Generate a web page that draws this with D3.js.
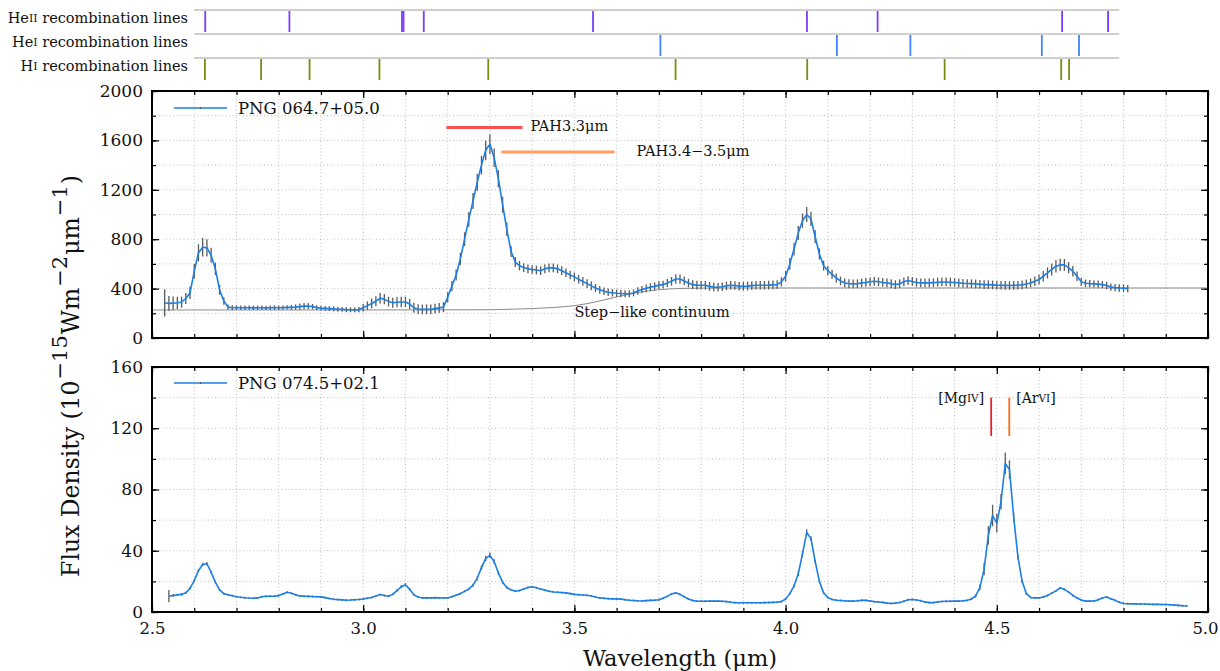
<!DOCTYPE html>
<html><head><meta charset="utf-8">
<script src="https://cdn.jsdelivr.net/npm/d3@7"></script>
<style>
body{margin:0;background:#fff}
svg{display:block}
text{font-family:"DejaVu Serif",serif;fill:#111}
</style></head>
<body><svg id="c" width="1220" height="671"></svg>
<script>
// ---------------- DATA ----------------
const topStart = 2.53, topStep = 0.01;   // PNG 064.7+05.0 wavelength grid (µm)
const topFlux = [
 285,280,282,285,290,320,365,
 540,690,735,730,670,560,390,300,250,245,
 246,245,245,246,244,245,245,244,245,246,
 245,246,248,248,250,254,258,259,254,246,
 242,240,238,236,233,232,230,229,228,230,
 245,262,280,298,322,315,295,285,290,292,
 292,275,245,233,232,232,232,238,244,250,
 330,420,510,640,800,960,1110,1260,1400,1520,
 1570,1460,1290,1080,880,700,615,585,570,560,
 555,550,545,560,568,568,560,545,528,510,
 495,475,458,440,422,405,390,378,370,366,
 362,360,358,358,365,380,392,402,412,418,
 428,432,445,459,478,478,462,445,432,428,
 427,427,418,412,411,415,422,427,425,420,
 419,420,424,427,427,427,428,430,432,455,
 500,600,720,850,950,1000,965,820,680,585,
 545,515,486,462,446,440,438,440,446,450,
 455,459,455,450,446,440,432,440,455,465,
 458,450,446,446,446,448,452,454,454,452,
 450,446,443,441,440,438,435,432,432,430,
 428,427,426,425,426,427,430,438,446,460,
 473,500,527,555,581,592,592,570,540,500,
 455,443,440,438,436,432,425,412,408,405,
 403,400];
const topErr = [
 110,60,55,50,45,45,50,
 60,70,75,70,60,50,40,30,22,20,
 18,18,18,18,18,18,18,18,18,18,
 18,18,18,20,22,25,25,25,22,20,
 20,20,20,20,20,20,20,20,20,22,
 30,35,40,40,42,42,40,40,42,42,
 42,40,40,40,40,40,40,40,40,40,
 40,42,45,50,55,60,65,70,75,80,
 80,75,70,65,55,45,40,38,36,35,
 35,35,35,35,35,35,35,35,35,35,
 35,35,35,35,35,33,32,30,30,30,
 30,30,28,28,28,30,30,32,32,32,
 32,32,32,35,38,38,35,35,35,35,
 35,35,35,35,35,35,35,35,35,35,
 35,35,35,35,35,35,35,35,35,38,
 42,48,52,56,58,60,58,52,45,40,
 38,38,36,35,35,35,35,35,35,35,
 35,35,35,35,35,35,35,35,35,35,
 35,35,35,35,35,35,35,35,35,35,
 35,35,35,35,35,35,35,35,35,35,
 35,35,35,35,35,35,35,35,35,38,
 40,42,45,48,50,50,48,45,42,38,
 32,30,30,30,30,30,30,30,30,30,
 30,30];

const botStart = 2.54, botStep = 0.01;   // PNG 074.5+02.1 wavelength grid (µm)
const botFlux = [
 10.3,10.8,11.2,11.5,12.5,15.5,
 20.5,27,31,31.5,26,19.5,14.5,12,11.2,10.6,
 10,9.6,9.3,9.1,9,9.2,10,10.3,10.3,10.3,
 10.7,11.8,12.9,12.2,11.2,10.5,10.3,10.2,10.1,10,
 9.9,9.4,8.8,8.3,8.1,7.9,7.7,7.8,8,8.2,
 8.5,9,9.5,10.5,11.4,10.8,10.3,11.5,14,16.5,
 17.8,14.8,11.2,9.8,9.2,9.2,9.2,9.3,9.2,9.1,
 9.2,10,11,12,13.5,15,17.5,22,29,35,
 37,33,25.5,19.5,16,14.5,13.6,14,15,16,
 16.5,15.8,15,14.3,13.6,13.1,12.9,12.7,12.5,12,
 11.5,11.3,11.1,10.9,10.5,9.8,9.2,9,8.7,8.6,
 8.6,8.4,8,7.7,7.5,7.3,7.2,7.4,7.6,7.7,
 8,9,10.2,11.8,12.5,11.5,10,8.5,7.5,7.1,
 7,7,7.1,7.1,7.1,7,6.8,6.4,6.1,6,
 6,6,6,6,6,6.1,6.2,6.3,6.4,6.8,
 8.5,12,17,25,38,52,48,33,20,12.5,
 9.5,8.2,7.7,7.5,7.3,7.1,7.1,7.3,7.6,7.6,
 7.2,6.8,6.5,6.3,5.8,5.6,5.8,6.2,7,8,
 8.2,7.8,7.4,6.6,6.1,6.1,6.5,6.9,7,7,
 7.1,7.1,7.3,7.6,8.5,10.5,16,28,50,63,
 58,72,97,93,62,36,20,12,9.5,9.2,
 9.2,9.8,10.8,12.3,13.8,15.7,14.8,13,10.8,9.2,
 7.8,7.1,7.1,7.2,8,9.2,9.8,8.6,7.6,6.4,
 5.6,5.4,5.3,5.3,5.2,5.2,5.1,5,5,4.9,
 4.9,4.7,4.5,4.3,4.1,3.9];
const botErr = [
 4,1,0.8,0.8,0.8,0.8,
 0.8,1,1.2,1.2,1,0.8,0.6,0.6,0.6,0.6,
 0.6,0.6,0.6,0.6,0.6,0.6,0.6,0.6,0.6,0.6,
 0.6,0.6,0.6,0.6,0.6,0.6,0.6,0.6,0.6,0.6,
 0.6,0.6,0.6,0.6,0.6,0.6,0.6,0.6,0.6,0.6,
 0.6,0.6,0.6,0.6,0.6,0.6,0.6,0.6,0.8,1,
 1,0.8,0.6,0.6,0.6,0.6,0.6,0.6,0.6,0.6,
 0.6,0.6,0.6,0.6,0.6,0.8,1,1.2,1.5,1.8,
 1.8,1.5,1.2,1,0.8,0.6,0.6,0.6,0.6,0.6,
 0.6,0.6,0.6,0.6,0.6,0.6,0.6,0.6,0.6,0.6,
 0.6,0.6,0.6,0.6,0.6,0.6,0.6,0.6,0.6,0.6,
 0.6,0.6,0.6,0.6,0.6,0.6,0.6,0.6,0.6,0.6,
 0.6,0.6,0.6,0.6,0.6,0.6,0.6,0.6,0.6,0.6,
 0.6,0.6,0.6,0.6,0.6,0.6,0.6,0.6,0.6,0.6,
 0.6,0.6,0.6,0.6,0.6,0.6,0.6,0.6,0.6,0.6,
 0.6,0.8,1,1.5,2,2,1.5,1,0.8,0.6,
 0.6,0.6,0.6,0.6,0.6,0.6,0.6,0.6,0.6,0.6,
 0.6,0.6,0.6,0.6,0.6,0.6,0.6,0.6,0.6,0.6,
 0.6,0.6,0.6,0.6,0.6,0.6,0.6,0.6,0.6,0.6,
 0.6,0.6,0.6,0.6,0.8,1,2,4,6,7,
 6,5,7,6,3,1.5,1,0.8,0.6,0.6,
 0.6,0.6,0.6,0.6,0.6,0.6,0.6,0.6,0.6,0.6,
 0.6,0.6,0.6,0.6,0.6,0.6,0.6,0.6,0.6,0.6,
 0.6,0.6,0.6,0.6,0.6,0.6,0.6,0.6,0.6,0.6,
 0.6,0.6,0.6,0.6,0.6,0.6];

// step-like continuum (top panel)
const contWave = [2.5,2.8,3.0,3.2,3.3,3.35,3.4,3.45,3.5,3.55,3.6,3.65,3.7,3.75,3.8,3.9,4.2,5.0];
const contFlux = [227,227,227,228,229,233,238,247,262,292,333,368,391,401,404,405,405,405];

// recombination line positions (µm)
const heIILines = [2.626,2.8253,3.0917,3.0955,3.1434,3.5441,4.0506,4.2178,4.6546,4.7635];
const heILines  = [3.7036,4.1215,4.2954,4.6066,4.6947];
const hILines   = [2.6252,2.7583,2.8730,3.0384,3.2961,3.7395,4.0512,4.3765,4.6525,4.6712];
const stripRange = [2.6, 4.79];

// PAH bands (top panel)
const pahLabels = ["PAH3.3μm","PAH3.4−3.5μm"];
const pahStart  = [3.197, 3.327];
const pahEnd    = [3.377, 3.595];
const pahLevel  = [1705, 1507];
const pahColors = ["#ff5050","#ff9e66"];

// forbidden lines (bottom panel)
const fbNames = [["[Mg","IV","]"],["[Ar","VI","]"]];
const fbWave  = [4.4867, 4.5295];
const fbLow = 115, fbHigh = 140;
const fbColors = ["#e8202a","#ff6a1a"];

const xMajor = [2.5,3.0,3.5,4.0,4.5,5.0];
const xMinor = d3.range(25,51).map(d=>d/10);
const topYMajor = [0,400,800,1200,1600,2000];
const topYMinor = d3.range(0,2001,200);
const botYMajor = [0,40,80,120,160];
const botYMinor = d3.range(0,161,20);
const legendNames = ["PNG 064.7+05.0","PNG 074.5+02.1"];

// ---------------- DRAW ----------------
const svg = d3.select("#c");
const L = 152, R = 1208;
const x = d3.scaleLinear().domain([2.5,5.0]).range([L,R]);
const yTop = d3.scaleLinear().domain([0,2000]).range([338,91]);
const yBot = d3.scaleLinear().domain([0,160]).range([612,367]);
const blue = "#1a7fe6";

// strips
const strips = [
  {name:["He","II"," recombination lines"], lines:heIILines, color:"#7b3cff", y:10},
  {name:["He","I"," recombination lines"], lines:heILines, color:"#3d85ff", y:34},
  {name:["H","I"," recombination lines"], lines:hILines, color:"#7c8c10", y:58}
];
strips.forEach(s=>{
  const g = svg.append("g");
  g.append("line").attr("x1",x(stripRange[0])).attr("x2",x(stripRange[1]))
    .attr("y1",s.y).attr("y2",s.y).attr("stroke","#cfcfcf").attr("stroke-width",2);
  g.selectAll("line.t").data(s.lines).join("line").attr("class","t")
    .attr("x1",d=>x(d)).attr("x2",d=>x(d)).attr("y1",s.y+1).attr("y2",s.y+22)
    .attr("stroke",s.color).attr("stroke-width",1.8);
  const t = g.append("text").attr("x",188).attr("y",s.y+8.5).attr("text-anchor","end")
    .attr("dominant-baseline","middle").attr("font-size",14.5);
  t.append("tspan").text(s.name[0]);
  t.append("tspan").attr("font-size",11).text(s.name[1]);
  t.append("tspan").text(s.name[2]);
});

function panel(y, yMajor, yMinor, showX){
  const g = svg.append("g");
  g.append("g").selectAll("line").data(xMinor.filter(d=>d>2.5&&d<5.0)).join("line")
    .attr("x1",d=>x(d)).attr("x2",d=>x(d)).attr("y1",y.range()[0]).attr("y2",y.range()[1])
    .attr("stroke","#b0b0b0").attr("stroke-width",0.8).attr("stroke-dasharray","1,2.5");
  g.append("g").selectAll("line").data(yMinor.filter(d=>d>y.domain()[0]&&d<y.domain()[1])).join("line")
    .attr("x1",L).attr("x2",R).attr("y1",d=>y(d)).attr("y2",d=>y(d))
    .attr("stroke","#b0b0b0").attr("stroke-width",0.8).attr("stroke-dasharray","1,2.5");
  const yb = y.range()[0], yt = y.range()[1];
  const mk = (axis, tr) => { const a = g.append("g").attr("transform",tr).call(axis); a.select(".domain").remove(); a.selectAll("line").attr("stroke","#000").attr("stroke-width",1.2); return a; };
  mk(d3.axisBottom(x).tickValues(xMinor).tickSize(-4).tickFormat(""), `translate(0,${yb})`);
  mk(d3.axisTop(x).tickValues(xMinor).tickSize(-4).tickFormat(""), `translate(0,${yt})`);
  const xa = mk(d3.axisBottom(x).tickValues(xMajor).tickSize(-7).tickPadding(10)
    .tickFormat(showX?d3.format(".1f"):""), `translate(0,${yb})`);
  mk(d3.axisTop(x).tickValues(xMajor).tickSize(-7).tickFormat(""), `translate(0,${yt})`);
  mk(d3.axisLeft(y).tickValues(yMinor).tickSize(-4).tickFormat(""), `translate(${L},0)`);
  mk(d3.axisRight(y).tickValues(yMinor).tickSize(-4).tickFormat(""), `translate(${R},0)`);
  mk(d3.axisLeft(y).tickValues(yMajor).tickSize(-7).tickPadding(9).tickFormat(d3.format("d")), `translate(${L},0)`);
  mk(d3.axisRight(y).tickValues(yMajor).tickSize(-7).tickFormat(""), `translate(${R},0)`);
  g.selectAll("text").attr("font-family","DejaVu Serif").attr("font-size",17).attr("fill","#111");
  xa.selectAll("text").attr("font-size",16.5).attr("dx",d=>d===5.0?-3:0);
  return g;
}

function spectrum(y, start, step, flux, err){
  const data = flux.map((v,i)=>({w:+(start+i*step).toFixed(3), v, e:err[i]}));
  const g = svg.append("g");
  g.selectAll("line.err").data(data).join("line").attr("class","err")
    .attr("x1",d=>x(d.w)).attr("x2",d=>x(d.w))
    .attr("y1",d=>y(d.v-d.e)).attr("y2",d=>y(d.v+d.e))
    .attr("stroke","#5a5a5a").attr("stroke-width",1.3);
  g.append("path").datum(data)
    .attr("d",d3.line().x(d=>x(d.w)).y(d=>y(d.v)))
    .attr("fill","none").attr("stroke",blue).attr("stroke-width",1.6).attr("stroke-linejoin","round");
}

function legend(y, name){
  const yy = y.range()[1] + (y===yTop?17:16);
  const g = svg.append("g");
  g.append("line").attr("x1",174).attr("x2",227).attr("y1",yy).attr("y2",yy)
    .attr("stroke",blue).attr("stroke-width",1.6);
  g.append("line").attr("x1",200.5).attr("x2",200.5).attr("y1",yy-1).attr("y2",yy+1)
    .attr("stroke","#5a5a5a").attr("stroke-width",1.2);
  g.append("text").attr("x",238).attr("y",yy+1).attr("dominant-baseline","middle")
    .attr("font-size",16.5).text(name);
}

// top panel
panel(yTop, topYMajor, topYMinor, false);
svg.append("path").datum(contWave.map((w,i)=>({w,v:contFlux[i]})))
  .attr("d",d3.line().x(d=>x(d.w)).y(d=>yTop(d.v)).curve(d3.curveMonotoneX))
  .attr("fill","none").attr("stroke","#8a8a8a").attr("stroke-width",1);
spectrum(yTop, topStart, topStep, topFlux, topErr);
svg.append("text").attr("x",x(3.5)).attr("y",yTop(200)).attr("dominant-baseline","middle")
  .attr("font-size",14.5).text("Step−like continuum");
pahLabels.forEach((lab,i)=>{
  svg.append("line").attr("x1",x(pahStart[i])).attr("x2",x(pahEnd[i]))
    .attr("y1",yTop(pahLevel[i])).attr("y2",yTop(pahLevel[i]))
    .attr("stroke",pahColors[i]).attr("stroke-width",3);
  svg.append("text").attr("x",x(pahEnd[i]) + (i===0?8:22)).attr("y",yTop(pahLevel[i]))
    .attr("dominant-baseline","middle").attr("font-size",14.5).text(lab);
});
legend(yTop, legendNames[0]);
svg.append("rect").attr("x",L).attr("y",91).attr("width",R-L).attr("height",338-91)
  .attr("fill","none").attr("stroke","#000").attr("stroke-width",2);

// bottom panel
panel(yBot, botYMajor, botYMinor, true);
spectrum(yBot, botStart, botStep, botFlux, botErr);
fbWave.forEach((w,i)=>{
  svg.append("line").attr("x1",x(w)).attr("x2",x(w)).attr("y1",yBot(fbLow)).attr("y2",yBot(fbHigh))
    .attr("stroke",fbColors[i]).attr("stroke-width",1.8);
  const t = svg.append("text").attr("x",x(w)+(i===0?-7:7)).attr("y",yBot(fbHigh)+1)
    .attr("text-anchor",i===0?"end":"start").attr("dominant-baseline","middle").attr("font-size",14);
  t.append("tspan").text(fbNames[i][0]);
  t.append("tspan").attr("font-size",10.5).text(fbNames[i][1]);
  t.append("tspan").text(fbNames[i][2]);
});
legend(yBot, legendNames[1]);
svg.append("rect").attr("x",L).attr("y",367).attr("width",R-L).attr("height",612-367)
  .attr("fill","none").attr("stroke","#000").attr("stroke-width",2);

// axis titles
svg.append("text").attr("x",x(3.75)).attr("y",660).attr("text-anchor","middle")
  .attr("dominant-baseline","middle").attr("font-size",22.5).text("Wavelength (μm)");
const yt = svg.append("text").attr("transform","translate(79,376) rotate(-90)")
  .attr("text-anchor","middle").attr("font-size",23.5);
yt.append("tspan").text("Flux Density (10");
yt.append("tspan").attr("font-size",21).attr("dy",-12).attr("dx",1).text("−15");
yt.append("tspan").attr("dy",12).attr("dx",1).text("Wm");
yt.append("tspan").attr("font-size",21).attr("dy",-12).attr("dx",1).text("−2");
yt.append("tspan").attr("dy",12).attr("dx",1).text("μm");
yt.append("tspan").attr("font-size",21).attr("dy",-12).attr("dx",1).text("−1");
yt.append("tspan").attr("dy",12).attr("dx",1).text(")");
</script></body></html>
